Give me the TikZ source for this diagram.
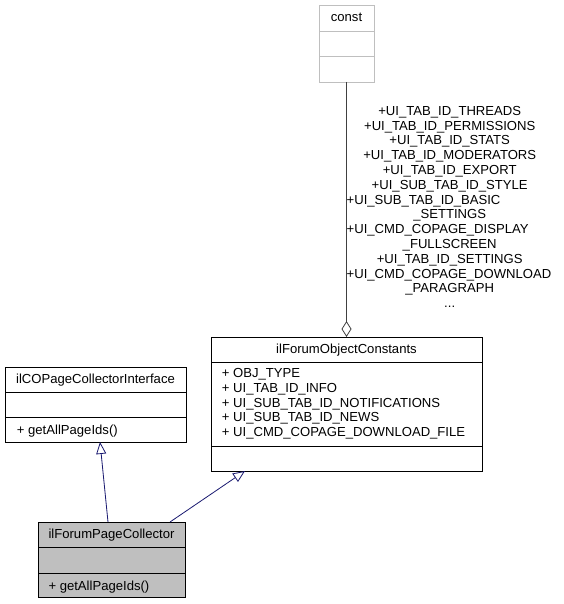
\documentclass[tikz,border=0pt]{standalone}
\usepackage{fontspec}
\setmainfont{Liberation Sans}
\usetikzlibrary{positioning,calc,arrows.meta}
\definecolor{edgeblue}{RGB}{25,25,112}
\definecolor{edgegray}{RGB}{64,64,64}
\definecolor{constgray}{RGB}{191,191,191}
\definecolor{classfill}{RGB}{191,191,191}

\begin{document}
\begin{tikzpicture}[x=1pt, y=-1pt,
    classbox/.style={draw, line width=0.8pt, inner sep=0pt, outer sep=0pt},
    member/.style={inner sep=0pt, font=\fontsize{13.1}{14.8}\selectfont},
    inherit/.style={draw=edgeblue, line width=0.8pt, -{Triangle[open, length=12pt, width=10pt]}},
    aggr/.style={draw=edgegray, line width=0.8pt, -{Diamond[open, length=16pt, width=10pt]}}]
    \useasboundingbox (0,0) rectangle (563,604);
    % const
    \node[classbox, draw=constgray, minimum width=55pt, minimum height=77pt] (const) at (346.5,43.5) {};
    \draw[constgray, line width=0.8pt] (319,31.5)--(374,31.5) (319,56.5)--(374,56.5);
    \node[member, anchor=base] (constname) at (346.5,22) {const};
    % ilForumObjectConstants
    \node[classbox, minimum width=271pt, minimum height=134pt] (constants) at (346.5,404) {};
    \draw[line width=0.8pt] (211,362)--(482,362) (211,446)--(482,446);
    \node[member, anchor=base] (constantsname) at (346.5,353) {ilForumObjectConstants};
    \foreach \t [count=\i] in {OBJ\_TYPE, UI\_TAB\_ID\_INFO, UI\_SUB\_TAB\_ID\_NOTIFICATIONS,
        UI\_SUB\_TAB\_ID\_NEWS, UI\_CMD\_COPAGE\_DOWNLOAD\_FILE}
      \node[member, anchor=base west] (attr\i) at (221.7,362.6+14.8*\i) {+ \t};
    % ilCOPageCollectorInterface
    \node[classbox, minimum width=181pt, minimum height=75pt] (iface) at (95.5,404.5) {};
    \draw[line width=0.8pt] (5,392.5)--(186,392.5) (5,417)--(186,417);
    \node[member, anchor=base] (ifacename) at (95.5,383) {ilCOPageCollectorInterface};
    \node[member, anchor=base west] (ifacemethod) at (16.7,434) {+ getAllPageIds()};
    % ilForumPageCollector
    \node[classbox, fill=classfill, minimum width=147pt, minimum height=75pt] (collector) at (111.5,559.5) {};
    \draw[line width=0.8pt] (38,547.5)--(185,547.5) (38,573)--(185,573);
    \node[member, anchor=base] (collectorname) at (111.5,538) {ilForumPageCollector};
    \node[member, anchor=base west] (collectormethod) at (48.3,590) {+ getAllPageIds()};
    % edges
    \draw[aggr] (const.south) -- (constants.north);
    \node[member, anchor=north, text width=206pt, align=center] (aggrlabel) at (449.7,106) {%
      +UI\_TAB\_ID\_THREADS\\
      +UI\_TAB\_ID\_PERMISSIONS\\
      +UI\_TAB\_ID\_STATS\\
      +UI\_TAB\_ID\_MODERATORS\\
      +UI\_TAB\_ID\_EXPORT\\
      +UI\_SUB\_TAB\_ID\_STYLE\\
      \makebox[\hsize][l]{+UI\_SUB\_TAB\_ID\_BASIC}\\
      \_SETTINGS\\
      \makebox[\hsize][l]{+UI\_CMD\_COPAGE\_DISPLAY}\\
      \_FULLSCREEN\\
      +UI\_TAB\_ID\_SETTINGS\\
      \makebox[\hsize][l]{+UI\_CMD\_COPAGE\_DOWNLOAD}\\
      \_PARAGRAPH\\
      ...};
    \draw[inherit] ([xshift=-3.5pt]collector.north) -- ([xshift=4.5pt]iface.south);
    \draw[inherit] ([xshift=58.5pt]collector.north) -- ([xshift=-101.5pt]constants.south);
\end{tikzpicture}
\end{document}
